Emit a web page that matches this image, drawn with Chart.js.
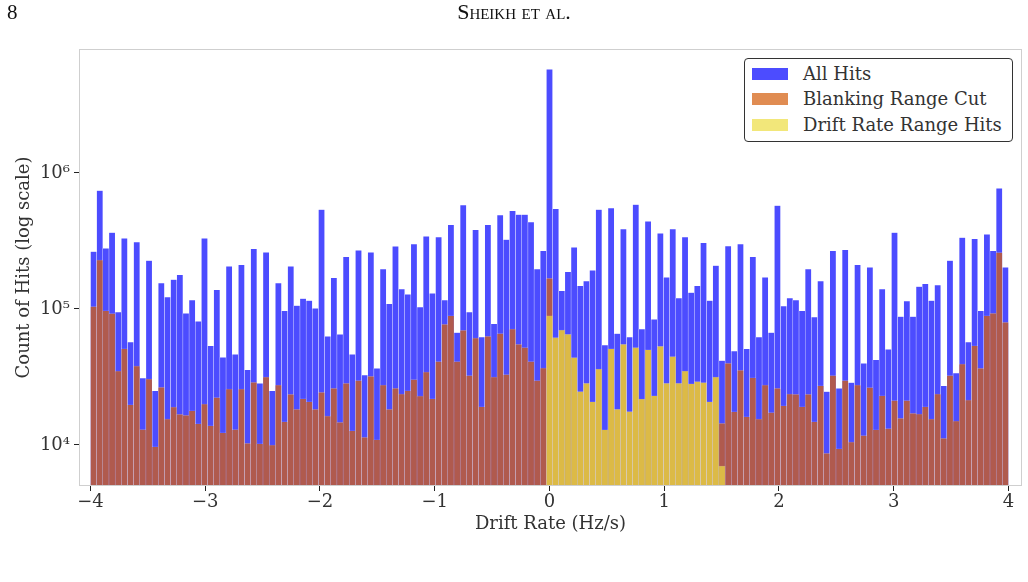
<!DOCTYPE html>
<html>
<head>
<meta charset="utf-8">
<script src="https://cdn.jsdelivr.net/npm/chart.js@4.4.1/dist/chart.umd.min.js"></script>
<style>
body { margin: 0; background: #fff; }
#page { position: relative; width: 1028px; height: 582px; overflow: hidden; }
#chart { position: absolute; left: 0; top: 0; }
.head { position: absolute; font-family: "Liberation Serif", serif; color: #111; line-height: 24px; }
#pagenum { left: 7px; top: 0; font-size: 21px; }
#runhead { left: 0; width: 1028px; top: 0; text-align: center; font-size: 22px; font-variant: small-caps; }
#legend { position: absolute; left: 744px; top: 58px; width: 267px; height: 82px; border: 1px solid #333; border-radius: 4px; background: #fff; font-family: "DejaVu Serif", serif; font-size: 18px; color: #333; }
#legend div { position: absolute; left: 58px; height: 20px; line-height: 20px; white-space: nowrap; }
#legend span { position: absolute; left: -51px; top: 4px; width: 36px; height: 12px; }
</style>
</head>
<body>
<div id="page">
<canvas id="chart" width="1028" height="582"></canvas>
<div class="head" id="pagenum">8</div>
<div class="head" id="runhead">Sheikh et al.</div>
<div id="legend">
	<div style="top:5px"><span style="background:#4c4cff"></span>All Hits</div>
	<div style="top:30px"><span style="background:#e08c52"></span>Blanking Range Cut</div>
	<div style="top:56px"><span style="background:#f2e77a"></span>Drift Rate Range Hits</div>
</div>
</div>
<script>
// histogram: 149 bins between -4 and 4 Hz/s
const binMin = -4
const binMax = 4
const binCount = 149
const xTicks = [-4, -3, -2, -1, 0, 1, 2, 3, 4]
const yTicks = [1e4, 1e5, 1e6]
const yTickLabels = ['10\u2074', '10\u2075', '10\u2076']

const allHits = [
	2.64e5, 7.4e5, 2.79e5, 3.64e5, 9.5e4, 3.3e5, 5.7e4, 3.1e5, 3.1e4, 2.27e5,
	2.5e4, 1.55e5, 1.22e5, 1.64e5, 1.78e5, 9.3e4, 1.16e5, 8.1e4, 3.3e5, 5.35e4,
	1.38e5, 4.4e4, 2.06e5, 4.64e4, 2.11e5, 3.56e4, 2.76e5, 2.84e4, 2.61e5, 2.5e4,
	1.55e5, 9.7e4, 2.06e5, 1.06e5, 1.19e5, 1.15e5, 1.01e5, 5.37e5, 6.3e4, 1.69e5,
	6.5e4, 2.41e5, 4.64e4, 2.7e5, 3.27e4, 2.61e5, 3.66e4, 1.96e5, 1.09e5, 2.89e5,
	1.4e5, 1.28e5, 3.0e5, 1.03e5, 3.42e5, 1.3e5, 3.37e5, 1.16e5, 4.15e5, 6.7e4,
	5.8e5, 9.5e4, 3.81e5, 6.2e4, 4.15e5, 7.76e4, 4.89e5, 3.23e5, 5.26e5, 4.94e5,
	4.94e5, 4.34e5, 1.96e5, 2.67e5, 5.78e6, 5.43e5, 1.36e5, 1.87e5, 2.84e5, 1.48e5,
	1.6e5, 1.92e5, 5.37e5, 5.43e4, 5.5e5, 6.6e4, 3.87e5, 6.2e4, 5.85e5, 7.1e4,
	4.41e5, 8.4e4, 3.6e5, 1.71e5, 3.87e5, 1.2e5, 3.37e5, 1.32e5, 1.48e5, 3.06e5,
	1.15e5, 2.08e5, 4.17e4, 2.9e5, 4.9e4, 3.0e5, 5.1e4, 2.41e5, 6.2e4, 1.71e5,
	6.7e4, 5.75e5, 1.05e5, 1.2e5, 1.16e5, 9.7e4, 1.96e5, 8.7e4, 1.6e5, 2.47e4,
	2.67e5, 2.61e4, 2.72e5, 2.87e4, 2.11e5, 3.98e4, 2.02e5, 4.22e4, 1.4e5, 5.05e4,
	3.64e5, 8.8e4, 1.14e5, 8.8e4, 1.46e5, 1.53e5, 1.15e5, 1.5e5, 2.72e4, 2.27e5,
	3.37e4, 3.34e5, 5.7e4, 3.27e5, 9.7e4, 3.54e5, 2.67e5, 7.7e5, 2.02e5
]

const blankingCut = [
	1.04e5, 2.29e5, 9.7e4, 9.25e4, 3.5e4, 5.1e4, 1.97e4, 3.8e4, 1.3e4, 3.05e4,
	9.7e3, 2.65e4, 1.55e4, 1.9e4, 1.68e4, 1.65e4, 1.78e4, 1.43e4, 2.0e4, 1.38e4,
	2.23e4, 1.23e4, 2.58e4, 1.3e4, 2.58e4, 1.03e4, 2.89e4, 1.02e4, 3.15e4, 1.0e4,
	2.76e4, 1.48e4, 2.36e4, 1.83e4, 2.18e4, 2.08e4, 1.83e4, 2.44e4, 1.63e4, 2.61e4,
	1.47e4, 2.84e4, 1.27e4, 2.97e4, 1.14e4, 3.2e4, 1.09e4, 2.76e4, 1.83e4, 2.61e4,
	2.37e4, 2.5e4, 3.02e4, 2.29e4, 3.44e4, 2.18e4, 4.1e4, 7.7e4, 8.9e4, 4.1e4,
	6.97e4, 3.24e4, 6.1e4, 1.91e4, 6.3e4, 3.15e4, 6.6e4, 3.29e4, 7.1e4, 5.5e4,
	5.2e4, 4.1e4, 2.97e4, 3.68e4, 1.68e5, null, null, null, null, null,
	null, null, null, null, null, null, null, null, null, null,
	null, null, null, null, null, null, null, null, null, null,
	null, null, 1.44e4, 3.98e4, 1.75e4, 3.54e4, 1.61e4, 3.11e4, 1.55e4, 2.76e4,
	1.73e4, 2.61e4, 1.94e4, 2.37e4, 2.36e4, 1.91e4, 2.36e4, 1.48e4, 2.72e4, 8.7e3,
	3.24e4, 9.35e3, 2.97e4, 1.05e4, 2.76e4, 1.17e4, 2.64e4, 1.29e4, 2.3e4, 1.32e4,
	2.12e4, 1.57e4, 2.12e4, 1.71e4, 1.69e4, 1.91e4, 1.55e4, 2.37e4, 1.12e4, 3.24e4,
	1.5e4, 3.94e4, 2.14e4, 5.35e4, 3.66e4, 8.9e4, 9.3e4, 2.6e5, 7.98e4
]

const driftRange = [
	null, null, null, null, null, null, null, null, null, null,
	null, null, null, null, null, null, null, null, null, null,
	null, null, null, null, null, null, null, null, null, null,
	null, null, null, null, null, null, null, null, null, null,
	null, null, null, null, null, null, null, null, null, null,
	null, null, null, null, null, null, null, null, null, null,
	null, null, null, null, null, null, null, null, null, null,
	null, null, null, null, 8.9e4, 6.15e4, 7.0e4, 6.5e4, 4.39e4, 2.47e4,
	2.84e4, 2.08e4, 3.62e4, 1.29e4, 5.08e4, 1.83e4, 5.5e4, 1.76e4, 5.2e4, 2.17e4,
	5.0e4, 2.3e4, 5.3e4, 2.84e4, 4.46e4, 2.84e4, 3.5e4, 2.81e4, 2.92e4, 2.87e4,
	2.08e4, 3.16e4, 7.0e3, null, null, null, null, null, null, null,
	null, null, null, null, null, null, null, null, null, null,
	null, null, null, null, null, null, null, null, null, null,
	null, null, null, null, null, null, null, null, null, null,
	null, null, null, null, null, null, null, null, null
]

const binWidth = (binMax - binMin) / binCount
const binCenters = allHits.map((v, i) => binMin + binWidth * (i + 0.5))

function points(arr) {
	return arr.map((v, i) => ({x: binCenters[i], y: v}))
}

const serif = '"DejaVu Serif", serif'

const framePlugin = {
	id: 'frame',
	afterDatasetsDraw(chart) {
		const a = chart.chartArea
		const ctx = chart.ctx
		ctx.save()
		ctx.strokeStyle = '#cfcfcf'
		ctx.lineWidth = 1
		ctx.strokeRect(a.left - 0.5, a.top - 0.5, a.right - a.left + 1, a.bottom - a.top + 1)
		ctx.restore()
	}
}

const barStyle = {
	grouped: false,
	barPercentage: 1,
	categoryPercentage: 1,
	borderWidth: {left: 0.5, right: 0.5, top: 0.5, bottom: 0},
	borderColor: 'rgba(255,255,255,0.35)',
	borderSkipped: false
}

new Chart(document.getElementById('chart'), {
	type: 'bar',
	data: {
		datasets: [
			Object.assign({label: 'All Hits', data: points(allHits), backgroundColor: '#4c4cff', order: 3}, barStyle),
			Object.assign({label: 'Blanking Range Cut', data: points(blankingCut), backgroundColor: '#b05a4e', order: 2}, barStyle),
			Object.assign({label: 'Drift Rate Range Hits', data: points(driftRange), backgroundColor: '#dcba46', order: 1}, barStyle)
		]
	},
	options: {
		responsive: false,
		animation: false,
		layout: {padding: {left: 10, top: 50, right: 7, bottom: 43}},
		plugins: {legend: {display: false}, tooltip: {enabled: false}},
		scales: {
			x: {
				type: 'linear',
				min: -4.0915,
				max: 4.109,
				offset: false,
				afterFit: s => { s.height = 54 },
				afterBuildTicks: s => { s.ticks = xTicks.map(v => ({value: v})) },
				grid: {offset: false, drawOnChartArea: false, drawTicks: true, tickLength: 6, tickColor: '#222'},
				border: {display: false},
				ticks: {
					font: {family: serif, size: 18},
					color: '#333',
					padding: 1,
					maxRotation: 0,
					callback: v => String(v).replace('-', '\u2212')
				},
				title: {display: true, text: 'Drift Rate (Hz/s)', font: {family: serif, size: 18}, color: '#333'}
			},
			y: {
				type: 'logarithmic',
				min: 5080,
				max: 8.0e6,
				afterFit: s => { s.width = 70 },
				afterBuildTicks: s => { s.ticks = yTicks.map(v => ({value: v})) },
				grid: {drawOnChartArea: false, drawTicks: true, tickLength: 6, tickColor: '#222'},
				border: {display: false},
				ticks: {
					font: {family: serif, size: 18},
					color: '#333',
					padding: 4,
					callback: v => yTickLabels[yTicks.indexOf(v)]
				},
				title: {display: true, text: 'Count of Hits (log scale)', font: {family: serif, size: 18}, color: '#333'}
			}
		}
	},
	plugins: [framePlugin]
})
</script>
</body>
</html>
